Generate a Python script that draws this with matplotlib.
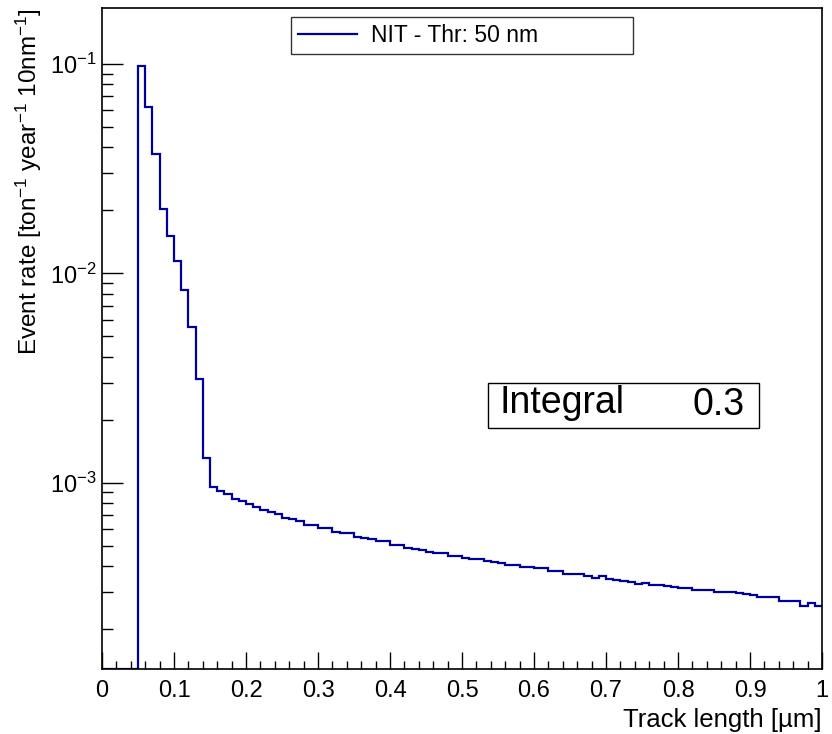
"""Track length spectrum (ROOT-style histogram) recreated with matplotlib."""

import numpy as np
import matplotlib

matplotlib.use("Agg")
import matplotlib.pyplot as plt
from matplotlib.patches import Rectangle
from matplotlib.ticker import LogLocator, MultipleLocator, NullFormatter

plt.rcParams["font.family"] = ["Liberation Sans", "DejaVu Sans"]
plt.rcParams["mathtext.fontset"] = "custom"
plt.rcParams["mathtext.rm"] = "Liberation Sans"
plt.rcParams["mathtext.it"] = "Liberation Sans:italic"

# histogram: 100 bins of 10 nm between 0 and 1 um
bin_edges = np.linspace(0.0, 1.0, 101)
event_rate = [
    0, 0, 0, 0, 0,
    0.0978, 0.0625, 0.0371, 0.0203, 0.0151,
    0.0115, 0.00832, 0.00555, 0.00314, 0.00131,
    0.000954, 0.000909, 0.000880, 0.000839, 0.000818,
    0.000788, 0.000768, 0.000743, 0.000727, 0.000709,
    0.000681, 0.000668, 0.000659, 0.000630, 0.000630,
    0.000610, 0.000610, 0.000583, 0.000573, 0.000573,
    0.000550, 0.000542, 0.000536, 0.000527, 0.000527,
    0.000502, 0.000502, 0.000490, 0.000484, 0.000479,
    0.000467, 0.000461, 0.000461, 0.000447, 0.000447,
    0.000435, 0.000432, 0.000432, 0.000424, 0.000417,
    0.000414, 0.000406, 0.000406, 0.000398, 0.000398,
    0.000392, 0.000392, 0.000377, 0.000377, 0.000368,
    0.000365, 0.000365, 0.000360, 0.000352, 0.000357,
    0.000348, 0.000344, 0.000340, 0.000336, 0.000328,
    0.000333, 0.000325, 0.000325, 0.000320, 0.000316,
    0.000313, 0.000313, 0.000307, 0.000307, 0.000307,
    0.000301, 0.000301, 0.000301, 0.000299, 0.000294,
    0.000291, 0.000284, 0.000284, 0.000284, 0.000271,
    0.000271, 0.000271, 0.000259, 0.000267, 0.000259,
]
series_label = "NIT - Thr: 50 nm"
integral_value = "0.3"

y_min, y_max = 1.29e-4, 0.185
line_color = "#00009c"

fig = plt.figure(figsize=(8.32, 7.34), dpi=100)
ax = fig.add_axes([0.1226, 0.0886, 0.8654, 0.9005])

# empty bins are drawn along the bottom edge, as ROOT does on a log axis
drawn = np.clip(np.asarray(event_rate, dtype=float), y_min, None)
ax.stairs(drawn, bin_edges, baseline=None, color=line_color,
          linewidth=1.6, label=series_label)

ax.set_yscale("log")
ax.set_xlim(0, 1)
ax.set_ylim(y_min, y_max)

ax.xaxis.set_major_locator(MultipleLocator(0.1))
ax.xaxis.set_minor_locator(MultipleLocator(0.02))
ax.xaxis.set_major_formatter(
    matplotlib.ticker.FuncFormatter(lambda v, _: f"{v:g}"))
ax.yaxis.set_major_locator(LogLocator(base=10))
ax.yaxis.set_minor_locator(LogLocator(base=10, subs=np.arange(2, 10)))
ax.yaxis.set_minor_formatter(NullFormatter())

ax.tick_params(which="both", direction="in", top=False, right=False,
               labelsize=17, color="black")
ax.tick_params(axis="x", which="major", length=12, width=1, pad=8)
ax.tick_params(axis="x", which="minor", length=6, width=1)
ax.tick_params(axis="y", which="major", length=15, width=1, pad=4)
ax.tick_params(axis="y", which="minor", length=8, width=1)

for spine in ax.spines.values():
    spine.set_linewidth(1.2)

ax.set_xlabel("Track length [µm]", fontsize=18.5, loc="right", labelpad=4)
ax.set_ylabel("Event rate [ton$^{-1}$ year$^{-1}$ 10nm$^{-1}$]",
              fontsize=17.5, loc="top", labelpad=4)

leg = ax.legend(loc="center", bbox_to_anchor=(0.2625, 0.930, 0.475, 0.056),
                mode="expand", fontsize=16.5, frameon=True, fancybox=False,
                handlelength=2.6, handletextpad=0.6, borderpad=0.3,
                borderaxespad=0)
leg.get_frame().set_edgecolor("black")
leg.get_frame().set_linewidth(1.0)

# statistics box
ax.add_patch(Rectangle((0.536, 0.365), 0.3765, 0.068, transform=ax.transAxes,
                       fill=False, edgecolor="black", linewidth=1.0))
ax.text(0.552, 0.403, "Integral", transform=ax.transAxes, fontsize=27,
        ha="left", va="center")
ax.text(0.893, 0.399, integral_value, transform=ax.transAxes, fontsize=27,
        ha="right", va="center")

fig.savefig("out.png", dpi=100)
plt.close(fig)
